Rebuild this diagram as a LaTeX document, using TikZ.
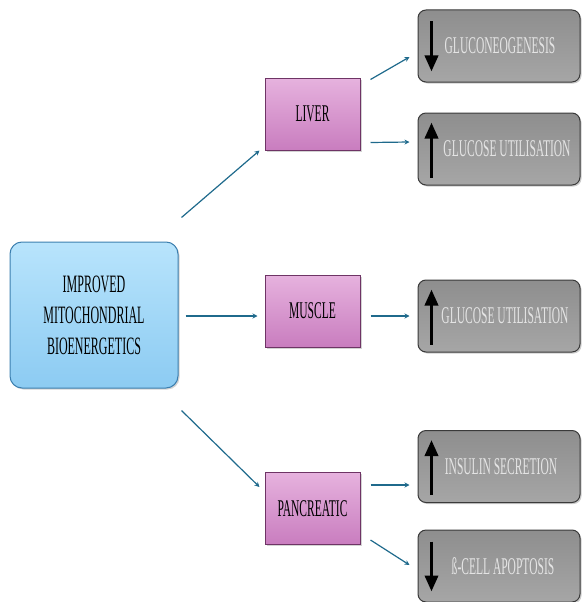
\documentclass[tikz,border=0pt]{standalone}
\usepackage{fontspec}
\setmainfont[FakeStretch=0.48]{Liberation Serif}
\usetikzlibrary{arrows.meta,shadows,calc}
\definecolor{conncol}{HTML}{1F6A8C}
\definecolor{bluetop}{HTML}{B8E4FC}
\definecolor{bluebot}{HTML}{8CCBF2}
\definecolor{blueedge}{HTML}{3C7FAF}
\definecolor{pinktop}{HTML}{E6B2DE}
\definecolor{pinkbot}{HTML}{C97DBF}
\definecolor{pinkedge}{HTML}{6E3465}
\definecolor{greytop}{HTML}{8E8E8E}
\definecolor{greymid}{HTML}{878787}
\definecolor{greybot}{HTML}{A6A6A6}
\definecolor{greyedge}{HTML}{3A3A3A}
\definecolor{greytext}{HTML}{E4E4E4}
\tikzset{
  mainbox/.style={draw=blueedge, line width=1pt, rounded corners=12pt, top color=bluetop, bottom color=bluebot,
    minimum width=168pt, minimum height=146pt, align=center, font=\fontsize{25}{31}\selectfont,
    drop shadow={shadow xshift=1.5pt, shadow yshift=-1.5pt, opacity=0.35}},
  organ/.style={draw=pinkedge, line width=1pt, top color=pinktop, bottom color=pinkbot,
    minimum width=95pt, minimum height=72pt, font=\fontsize{24}{28}\selectfont,
    drop shadow={shadow xshift=1.5pt, shadow yshift=-1.5pt, opacity=0.35}},
  effect/.style={draw=greyedge, line width=1pt, rounded corners=8pt, top color=greytop, middle color=greymid, bottom color=greybot,
    minimum width=162pt, minimum height=72pt,
    drop shadow={shadow xshift=1.5pt, shadow yshift=-1.5pt, opacity=0.4}},
  efftext/.style={text=greytext, font=\fontsize{24}{28}\selectfont},
  conn/.style={draw=conncol, line width=1.2pt, -{Stealth[length=5pt,width=5pt]}},
  bigarrow/.style={line width=3.5pt, -{Triangle[width=13pt,length=16pt]}}
}
\begin{document}
\begin{tikzpicture}[x=1pt,y=-1pt]
\useasboundingbox (0,0) rectangle (581,602);
\node[mainbox] (main) at (94,315) {IMPROVED\\MITOCHONDRIAL\\BIOENERGETICS};
\node[organ] (liver) at (312.5,114) {LIVER};
\node[organ] (muscle) at (312.5,311) {MUSCLE};
\node[organ] (panc) at (312.5,508.5) {PANCREATIC};
\node[effect] (g1) at (499,46) {};
\node[effect] (g2) at (499,149) {};
\node[effect] (g3) at (499,316) {};
\node[effect] (g4) at (499,466.5) {};
\node[effect] (g5) at (499,566) {};
\node[efftext] (t1) at ($(g1.center)+(1,0)$) {GLUCONEOGENESIS};
\node[efftext] (t2) at ($(g2.center)+(8,0)$) {GLUCOSE UTILISATION};
\node[efftext] (t3) at ($(g3.center)+(6,0)$) {GLUCOSE UTILISATION};
\node[efftext] (t4) at ($(g4.center)+(2,0)$) {INSULIN SECRETION};
\node[efftext] (t5) at ($(g5.center)+(4,0)$) {ß-CELL APOPTOSIS};
% inner arrows
\draw[bigarrow] ([shift={(14,12)}]g1.north west) -- ([shift={(14,-11)}]g1.south west);
\draw[bigarrow] ([shift={(14,-8)}]g2.south west) -- ([shift={(14,10)}]g2.north west);
\draw[bigarrow] ([shift={(14,-8)}]g3.south west) -- ([shift={(14,10)}]g3.north west);
\draw[bigarrow] ([shift={(14,-8)}]g4.south west) -- ([shift={(14,10)}]g4.north west);
\draw[bigarrow] ([shift={(14,12)}]g5.north west) -- ([shift={(14,-11)}]g5.south west);
% connectors
\draw[conn] ([shift={(3,-24)}]main.north east) -- ([shift={(-5,0)}]liver.south west);
\draw[conn] ([shift={(7,1)}]main.east) -- ([shift={(-7,5)}]muscle.west);
\draw[conn] ([shift={(3,22)}]main.south east) -- ([shift={(-5,15)}]panc.north west);
\draw[conn] ([shift={(10,2)}]liver.north east) -- ([shift={(-8,11)}]g1.west);
\draw[conn] ([shift={(10,-8)}]liver.south east) -- ([shift={(-8,-7)}]g2.west);
\draw[conn] ([shift={(10,5)}]muscle.east) -- ([shift={(-8,0)}]g3.west);
\draw[conn] ([shift={(10,13)}]panc.north east) -- ([shift={(-8,18.5)}]g4.west);
\draw[conn] ([shift={(10,-5)}]panc.south east) -- ([shift={(-8,-1)}]g5.west);
\end{tikzpicture}
\end{document}
